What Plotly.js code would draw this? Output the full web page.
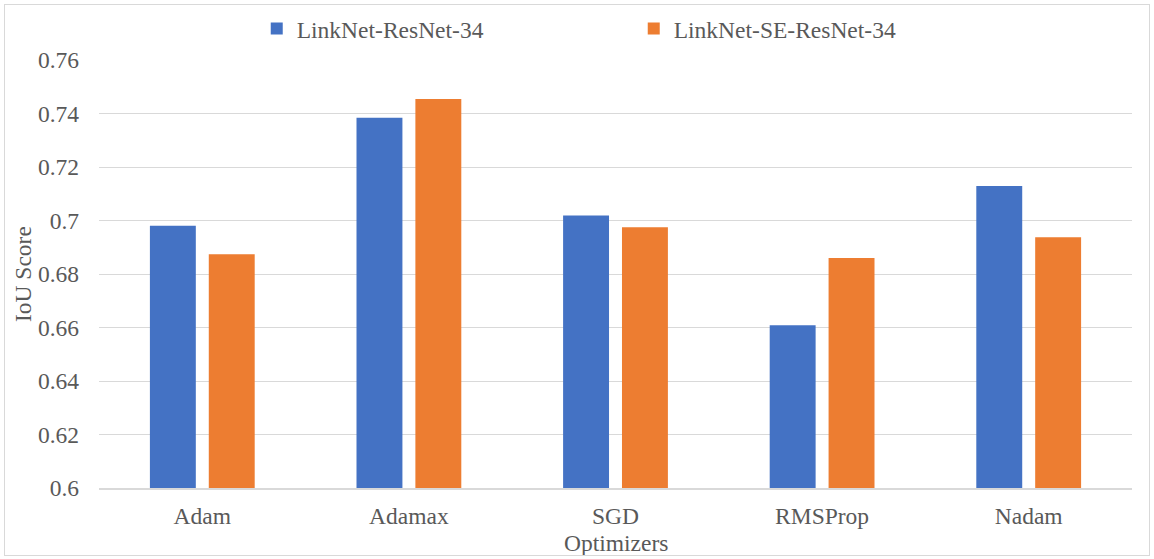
<!DOCTYPE html>
<html>
<head>
<meta charset="utf-8">
<script src="https://cdn.plot.ly/plotly-3.0.1.min.js"></script>
<style>
  html, body { margin: 0; padding: 0; background: #ffffff; }
  #wrap { position: relative; width: 1154px; height: 559px; }
  #chart { width: 1154px; height: 559px; }
  #frame {
    position: absolute; left: 4px; top: 4px; width: 1146px; height: 552px;
    border: 1px solid #d9d9d9; pointer-events: none; box-sizing: border-box;
  }
</style>
</head>
<body>
<div id="wrap">
  <div id="chart"></div>
  <div id="frame"></div>
</div>
<script>
// IoU score per optimizer for the two LinkNet variants
const optimizers = ["Adam", "Adamax", "SGD", "RMSProp", "Nadam"];
const linknetResnet34 = [0.698, 0.7384, 0.7019, 0.6608, 0.7129];
const linknetSeResnet34 = [0.6874, 0.7454, 0.6975, 0.686, 0.6937];
const yTicks = [0.6, 0.62, 0.64, 0.66, 0.68, 0.7, 0.72, 0.74, 0.76];
const yTickLabels = ["0.6", "0.62", "0.64", "0.66", "0.68", "0.7", "0.72", "0.74", "0.76"];

const serif = "Liberation Serif, serif";
const textGrey = "#595959";
const fontSize = 23.5;

const traces = [
  {
    type: "bar",
    name: "LinkNet-ResNet-34",
    x: optimizers,
    y: linknetResnet34,
    marker: { color: "#4472C4", line: { width: 0 } },
    hoverinfo: "x+y+name"
  },
  {
    type: "bar",
    name: "LinkNet-SE-ResNet-34",
    x: optimizers,
    y: linknetSeResnet34,
    marker: { color: "#ED7D31", line: { width: 0 } },
    hoverinfo: "x+y+name"
  }
];

const layout = {
  width: 1154,
  height: 559,
  margin: { l: 99, r: 22, t: 60, b: 71, autoexpand: false },
  paper_bgcolor: "#ffffff",
  plot_bgcolor: "#ffffff",
  font: { family: serif, size: fontSize, color: textGrey },
  barmode: "group",
  bargap: 0.43,
  bargroupgap: 0.22,
  showlegend: true,
  legend: {
    orientation: "h",
    x: 0.1527,
    xanchor: "left",
    y: 1.073,
    yanchor: "middle",
    entrywidth: 332,
    font: { family: serif, size: fontSize, color: textGrey },
    bgcolor: "rgba(0,0,0,0)"
  },
  xaxis: {
    type: "category",
    showgrid: false,
    showline: true,
    linecolor: "#d9d9d9",
    linewidth: 1.5,
    ticks: "",
    ticklabelstandoff: 6,
    tickfont: { family: serif, size: fontSize, color: textGrey },
    fixedrange: true
  },
  yaxis: {
    range: [0.6, 0.76],
    tickmode: "array",
    tickvals: yTicks,
    ticktext: yTickLabels,
    showgrid: true,
    gridcolor: "#d9d9d9",
    gridwidth: 1.3,
    zeroline: false,
    showline: false,
    ticks: "",
    ticklabelstandoff: 19,
    tickfont: { family: serif, size: fontSize, color: textGrey },
    fixedrange: true
  },
  annotations: [
    {
      text: "IoU Score",
      xref: "paper", yref: "paper",
      x: -0.0735, y: 0.5,
      xanchor: "center", yanchor: "middle",
      textangle: -90,
      showarrow: false,
      font: { family: serif, size: fontSize, color: textGrey }
    },
    {
      text: "Optimizers",
      xref: "paper", yref: "paper",
      x: 0.5, y: -0.1275,
      xanchor: "center", yanchor: "middle",
      showarrow: false,
      font: { family: serif, size: fontSize, color: textGrey }
    }
  ]
};

Plotly.newPlot("chart", traces, layout, { displayModeBar: false });
</script>
</body>
</html>
